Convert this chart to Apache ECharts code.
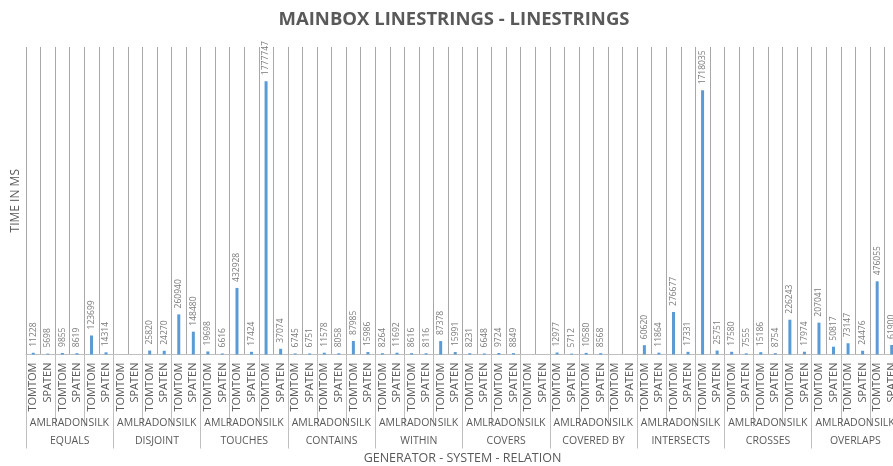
<!DOCTYPE html>
<html>
<head>
<meta charset="utf-8">
<script src="https://cdn.jsdelivr.net/npm/echarts@6/dist/echarts.min.js"></script>
<style>
html,body{margin:0;padding:0;background:#fff;}
#chart{width:893px;height:466px;}
</style>
</head>
<body>
<div id="chart"></div>
<script>
// Category levels
var relations = ['EQUALS','DISJOINT','TOUCHES','CONTAINS','WITHIN','COVERS','COVERED BY','INTERSECTS','CROSSES','OVERLAPS'];
var systems = ['AML','RADON','SILK'];
var generators = ['TOMTOM','SPATEN'];

// Values per relation, order: AML TOMTOM, AML SPATEN, RADON TOMTOM, RADON SPATEN, SILK TOMTOM, SILK SPATEN (ms)
var equalsVals     = [11228, 5698, 9855, 8619, 123699, 14314];
var disjointVals   = [null, null, 25820, 24270, 260940, 148480];
var touchesVals    = [19698, 6616, 432928, 17424, 1777747, 37074];
var containsVals   = [6745, 6751, 11578, 8058, 87985, 15986];
var withinVals     = [8264, 11692, 8616, 8116, 87378, 15991];
var coversVals     = [8231, 6648, 9724, 8849, null, null];
var coveredByVals  = [12977, 5712, 10580, 8568, null, null];
var intersectsVals = [60620, 11864, 276677, 17331, 1718035, 25751];
var crossesVals    = [17580, 7555, 15186, 8754, 226243, 17974];
var overlapsVals   = [207041, 50817, 73147, 24476, 476055, 61900];

var valueGroups = [equalsVals, disjointVals, touchesVals, containsVals, withinVals,
                   coversVals, coveredByVals, intersectsVals, crossesVals, overlapsVals];

// Build the three category levels
var genCats = [], sysCats = [], values = [];
relations.forEach(function (r, ri) {
  systems.forEach(function (s, si) {
    sysCats.push(s);
    generators.forEach(function (g, gi) {
      genCats.push(g);
      values.push(valueGroups[ri][si * 2 + gi]);
    });
  });
});

var textGray = '#595959';
var lineGray = '#a8a8a8';
var ff = '"Open Sans", sans-serif';

var chart = echarts.init(document.getElementById('chart'), null, {renderer: 'canvas'});
chart.setOption({
  animation: false,
  backgroundColor: '#ffffff',
  title: {
    text: 'MAINBOX LINESTRINGS - LINESTRINGS',
    left: 454, top: 10, textAlign: 'center', padding: 0,
    textStyle: {fontFamily: ff, fontSize: 18.5, fontWeight: 'bold', color: textGray}
  },
  grid: {left: 26, top: 47, bottom: 111.5, width: 873, containLabel: false, outerBoundsMode: 'none'},
  xAxis: [
    {
      type: 'category', data: genCats, position: 'bottom',
      axisLine: {show: true, lineStyle: {color: '#bfbfbf', width: 1}},
      axisTick: {show: false},
      splitLine: {show: true, interval: 0, lineStyle: {color: lineGray, width: 1}},
      axisLabel: {interval: 0, rotate: 90, margin: 8, fontFamily: ff, fontSize: 11, color: textGray}
    },
    {
      type: 'category', data: sysCats, position: 'bottom',
      axisLine: {show: false},
      axisTick: {show: true, interval: 0, length: 72, lineStyle: {color: '#bfbfbf'}},
      splitLine: {show: false},
      axisLabel: {interval: 0, margin: 63, fontFamily: ff, fontSize: 10.5, color: textGray}
    },
    {
      type: 'category', data: relations, position: 'bottom',
      axisLine: {show: false},
      axisTick: {show: true, interval: 0, length: 94, lineStyle: {color: '#bfbfbf'}},
      splitLine: {show: false},
      axisLabel: {interval: 0, margin: 81, fontFamily: ff, fontSize: 10.5, color: textGray},
      name: 'GENERATOR - SYSTEM - RELATION',
      nameLocation: 'middle', nameGap: 97,
      nameTextStyle: {fontFamily: ff, fontSize: 12.5, color: textGray}
    }
  ],
  yAxis: {
    type: 'value', min: 0, max: 2000000,
    axisLine: {show: false}, axisTick: {show: false}, axisLabel: {show: false},
    splitLine: {show: false},
    name: 'TIME IN MS', nameLocation: 'middle', nameRotate: 90, nameGap: 4,
    nameTextStyle: {fontFamily: ff, fontSize: 12, color: textGray}
  },
  series: [{
    type: 'bar', xAxisIndex: 0, data: values, barWidth: 3,
    itemStyle: {color: '#5b9bd5'},
    label: {
      show: true, position: 'top', rotate: 90, align: 'left', verticalAlign: 'middle',
      distance: 6, fontFamily: ff, fontSize: 8.5, color: '#7a7a7a'
    }
  }]
});
</script>
</body>
</html>
